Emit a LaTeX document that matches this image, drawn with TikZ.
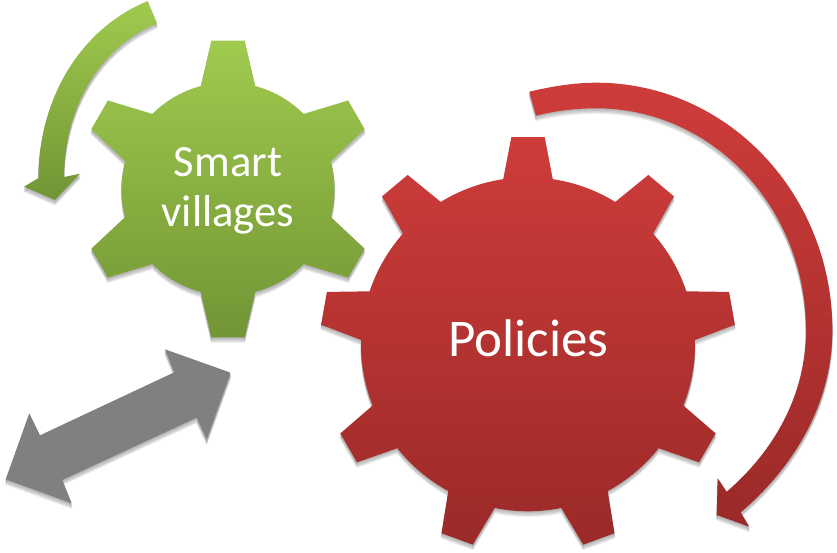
\documentclass[tikz,border=0pt]{standalone}
\usepackage{fontspec}
\setmainfont{Carlito}
\definecolor{gtop}{HTML}{A0CA4E}
\definecolor{gbot}{HTML}{729535}
\definecolor{rtop}{HTML}{CE3C3A}
\definecolor{rbot}{HTML}{9A2A28}
\definecolor{gry}{HTML}{808080}
\tikzset{
  greenfill/.style={top color=gtop,bottom color=gbot,draw=none},
  redfill/.style={top color=rtop,bottom color=rbot,draw=none},
  grayfill/.style={top color=gry,bottom color=gry,draw=none},
  geartext/.style={text=white,align=center,inner sep=0pt},
}
% #1 fill style, #2 path: soft shadow layers, then the shape
\newcommand\softshape[2]{%
  \foreach \s/\w/\o in {5/1.5/.04,4/1.2/.06,3/.8/.07,2/.4/.08,1/.1/.08}{%
    \draw[black,fill=black,opacity=\o,line width=\w pt,line join=round,shift={(0,-\s)}] #2;}
  \shade[#1] #2;
}
% #1 centre, #2 R, #3 outer R, #4 base half angle, #5 tip half angle, #6 step, #7 teeth, #8 first angle
\newcommand\gearpath[8]{%
  ([shift={(#1)}]#8+#4:#2)
  \foreach \a in {#7}{
    -- ([shift={(#1)}]\a+#5:#3)
    -- ([shift={(#1)}]\a-#5:#3)
    -- ([shift={(#1)}]\a-#4:#2)
    arc[start angle={\a-#4},end angle={\a-#6+#4},radius=#2]
  } -- cycle}
\begin{document}
\begin{tikzpicture}[x=1pt,y=1pt]
\useasboundingbox (0,0) rectangle (837,-552);
% green curved arrow
\softshape{greenfill}{(147.7,-1) .. controls (77.7,-30) and (38.5,-102) .. (38.5,-178)
  -- (24,-186.7) -- (55,-200) -- (80,-173.7) -- (64,-177)
  .. controls (64,-111.4) and (96.5,-48.6) .. (157,-23.3) -- cycle}
% red curved arrow
\softshape{redfill}{(529.3,-91.7) .. controls (551,-86.5) and (574,-82.7) .. (596.3,-82.7)
  arc[start angle=90,end angle=0,x radius=236,y radius=247.3]
  .. controls (832.3,-402) and (795.7,-465.3) .. (740.7,-512.3)
  -- (749.3,-526.7) -- (716.7,-515) -- (717.7,-478.3) -- (726.7,-491.7)
  .. controls (774,-451) and (806,-395) .. (806,-330)
  arc[start angle=0,end angle=90,x radius=209.7,y radius=221.7]
  .. controls (576,-108.3) and (556,-110.7) .. (536,-115.7) -- cycle}
% gray double arrow
\softshape{grayfill}{(165,-349.3) -- (230.7,-372.7) -- (206.7,-439.3) -- (196.7,-417.7)
  -- (62.3,-480) -- (71.7,-503.3) -- (5.7,-479.3) -- (29.3,-413.3) -- (40,-435.3)
  -- (174.3,-372.3) -- cycle}
% gears
\softshape{greenfill}{\gearpath{228,-189}{106.5}{149.2}{14.8}{6.4}{60}{90,30,-30,-90,-150,-210}{90}}
\softshape{redfill}{\gearpath{528,-344.3}{167}{207.8}{8.5}{4.6}{40}{90,50,10,-30,-70,-110,-150,-190,-230}{90}}
\node[geartext,font=\fontsize{44.7}{50}\selectfont] (smart) at (228,-191) {Smart\\villages};
\node[geartext,font=\fontsize{53}{60}\selectfont,anchor=base] (policies) at (528.5,-356) {Policies};
\end{tikzpicture}
\end{document}
